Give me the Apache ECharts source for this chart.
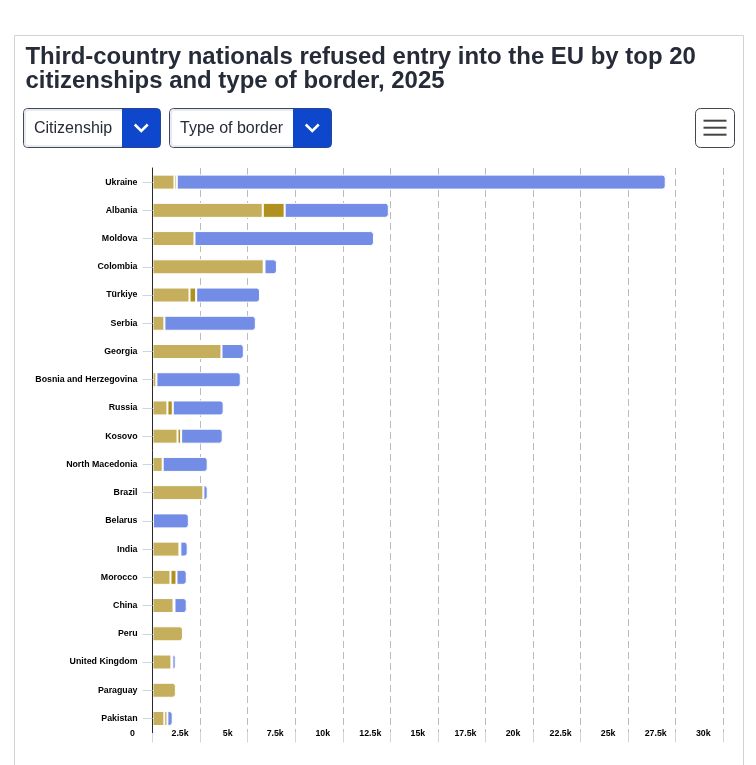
<!DOCTYPE html>
<html>
<head>
<meta charset="utf-8">
<style>html,body{margin:0;padding:0;background:#fff}#c{width:756px;height:765px}</style>
<script src="https://cdn.jsdelivr.net/npm/echarts@6/dist/echarts.min.js"></script>
</head>
<body>
<div id="c"></div>
<script>
const titleText = "Third-country nationals refused entry into the EU by top 20\ncitizenships and type of border, 2025";
const filterLabels = ["Citizenship", "Type of border"];
const categories = ["Ukraine","Albania","Moldova","Colombia","Türkiye","Serbia","Georgia","Bosnia and Herzegovina","Russia","Kosovo","North Macedonia","Brazil","Belarus","India","Morocco","China","Peru","United Kingdom","Paraguay","Pakistan"];
const airValues  = [1155,5795,2205,5845,1945,625,3625,205,785,1315,535,2675,20,1415,945,1105,1600,995,1230,625];
const seaValues  = [120,1150,0,40,350,0,0,0,280,190,0,0,0,50,315,50,0,50,0,157];
const landValues = [25700,5475,9435,655,3355,4805,1175,4435,2675,2185,2365,225,1890,385,540,645,0,175,0,280];
const seriesNames = ["Air","Sea","Land"];
const seriesValues = [airValues, seaValues, landValues];
const seriesColors = ["#c5af5c","#b0911f","#738de6"];
const axisMax = 30000, axisStep = 2500;

const chart = echarts.init(document.getElementById('c'), null, {width:756, height:765});
const ink = "#262b38", edge = "#42464f", blue = "#0e47cb", font = '"Liberation Sans", Arial, sans-serif';

function dropdown(x, w, blueX, label){
  const right = x + w, mid = (blueX + right) / 2;
  return [
    {type:'rect', shape:{x, y:108.5, width:w, height:39, r:4}, style:{fill:'#fff', stroke:edge, lineWidth:1}},
    {type:'rect', shape:{x:x+1.5, y:110, width:w-3, height:36, r:3}, style:{fill:null, stroke:'#e8eaf3', lineWidth:2}},
    {type:'rect', shape:{x:blueX, y:108.5, width:right-blueX, height:39, r:[0,4,4,0]}, style:{fill:blue, stroke:edge, lineWidth:0}},
    {type:'polyline', shape:{points:[[mid-6.5,124.5],[mid,131],[mid+6.5,124.5]]}, style:{stroke:'#fff', lineWidth:2.5, fill:null}},
    {type:'text', x:x+10.5, y:128.5, style:{text:label, fill:ink, font:'16px '+font, textVerticalAlign:'middle'}}
  ];
}
function menuLine(y){
  return {type:'line', shape:{x1:703.5, y1:y, x2:726.5, y2:y}, style:{stroke:'#444', lineWidth:2}};
}
const graphics = [
  {type:'polyline', z:-1, silent:true, shape:{points:[[14.5,765],[14.5,35.5],[743.5,35.5],[743.5,765]]}, style:{stroke:'#d2d2d2', lineWidth:1, fill:null}},
  ...dropdown(23.5, 137, 122, filterLabels[0]),
  ...dropdown(169.5, 162, 293, filterLabels[1]),
  {type:'rect', shape:{x:695.5, y:108.5, width:39, height:39, r:5}, style:{fill:'#fff', stroke:edge, lineWidth:1}},
  menuLine(120.7), menuLine(127.7), menuLine(134.7)
];

function isLast(si, i){
  for (let k = si + 1; k < seriesValues.length; k++) if (seriesValues[k][i] > 0) return false;
  return true;
}
const series = seriesNames.map((name, si) => ({
  name, type:'bar', stack:'total', barWidth:15,
  itemStyle:{color:seriesColors[si], borderColor:'#fff', borderWidth:1},
  emphasis:{disabled:true},
  data: seriesValues[si].map((v, i) => ({
    value: v > 0 ? v : null,
    itemStyle:{borderRadius: isLast(si, i) ? [0,3,3,0] : 0}
  }))
}));

chart.setOption({
  animation:false,
  backgroundColor:'#fff',
  title:{text:titleText, left:25.5, top:45, padding:0, textStyle:{fontFamily:font, fontSize:23.95, fontWeight:'bold', color:ink, lineHeight:24}},
  graphic:graphics,
  grid:{left:152.5, top:168, width:570.8, height:564.6, containLabel:false},
  xAxis:{
    type:'value', min:0, max:axisMax, interval:axisStep,
    axisLine:{show:false},
    axisTick:{show:true, length:10, lineStyle:{color:'#ccd6eb', width:1}},
    splitLine:{show:true, lineStyle:{color:'#bcbcbc', width:1, type:[7,4]}},
    axisLabel:{
      margin:-4, align:'center', padding:[0,40,0,0], showMinLabel:true, showMaxLabel:true, hideOverlap:false,
      fontFamily:font, fontSize:8.8, fontWeight:'bold', color:'#000',
      formatter:v => v === 0 ? '0' : (v/1000) + 'k'
    }
  },
  yAxis:{
    type:'category', inverse:true, data:categories, z:5,
    axisLine:{show:true, lineStyle:{color:'#2a2a2a', width:1}},
    axisTick:{show:true, alignWithLabel:true, length:10, lineStyle:{color:'#ccd6eb', width:1}},
    axisLabel:{margin:15, interval:0, padding:[3,0,0,0], fontFamily:font, fontSize:8.8, fontWeight:'bold', color:'#000'}
  },
  series
});
</script>
</body>
</html>
